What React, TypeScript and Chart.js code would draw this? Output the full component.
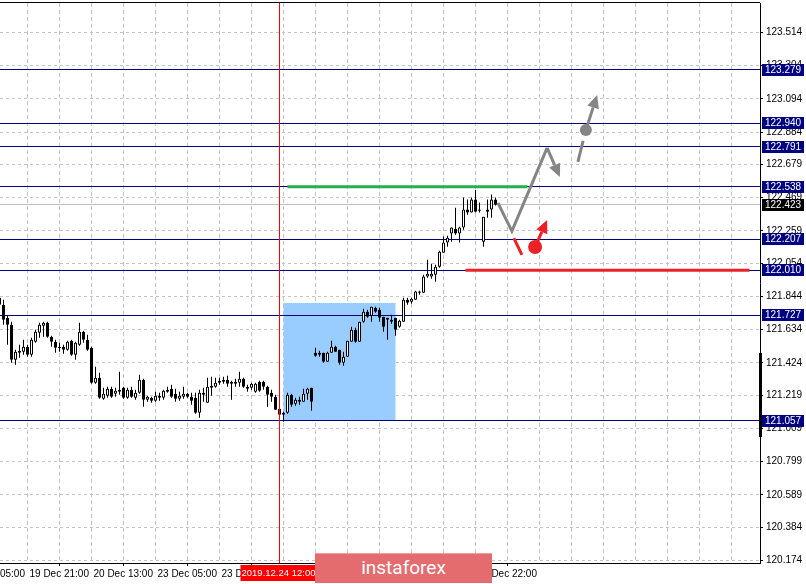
import { useEffect, useRef } from 'react';
import { Chart, registerables } from 'chart.js';

Chart.register(...registerables);

// ---- candle data (USD/JPY H1), index 0..124 ----
const opens = [
  121.837, 121.792, 121.710, 121.666, 121.444, 121.488, 121.495, 121.526, 121.476, 121.558,
  121.615, 121.659, 121.678, 121.590, 121.558, 121.526, 121.526, 121.508, 121.564, 121.476,
  121.539, 121.621, 121.571, 121.520, 121.298, 121.330, 121.197, 121.216, 121.261, 121.229,
  121.242, 121.267, 121.204, 121.254, 121.204, 121.235, 121.317, 121.191, 121.204, 121.185,
  121.216, 121.204, 121.254, 121.261, 121.229, 121.197, 121.210, 121.229, 121.210, 121.204,
  121.109, 121.223, 121.172, 121.267, 121.273, 121.298, 121.305, 121.317, 121.305, 121.292,
  121.298, 121.324, 121.273, 121.267, 121.242, 121.305, 121.305, 121.273, 121.235, 121.210,
  121.134, 121.109, 121.109, 121.223, 121.166, 121.191, 121.178, 121.229, 121.267, 121.488,
  121.476, 121.488, 121.431, 121.488, 121.526, 121.508, 121.425, 121.463, 121.558, 121.634,
  121.558, 121.685, 121.748, 121.723, 121.773, 121.761, 121.716, 121.710, 121.685, 121.710,
  121.653, 121.685, 121.824, 121.811, 121.824, 121.868, 121.868, 121.970, 121.970, 121.982,
  122.033, 122.121, 122.185, 122.242, 122.273, 122.242, 122.280, 122.394, 122.375, 122.457,
  122.394, 122.191, 122.394, 122.394, 122.457,
];
const highs = [
  121.875, 121.824, 121.723, 121.685, 121.508, 121.539, 121.571, 121.539, 121.583, 121.634,
  121.678, 121.685, 121.685, 121.596, 121.571, 121.552, 121.539, 121.564, 121.571, 121.558,
  121.678, 121.628, 121.602, 121.526, 121.400, 121.362, 121.267, 121.273, 121.273, 121.267,
  121.368, 121.273, 121.267, 121.273, 121.254, 121.349, 121.324, 121.216, 121.210, 121.242,
  121.235, 121.254, 121.273, 121.286, 121.261, 121.242, 121.273, 121.235, 121.235, 121.235,
  121.254, 121.267, 121.330, 121.336, 121.330, 121.330, 121.336, 121.343, 121.311, 121.324,
  121.368, 121.330, 121.286, 121.298, 121.298, 121.311, 121.311, 121.279, 121.254, 121.223,
  121.134, 121.115, 121.235, 121.229, 121.204, 121.210, 121.261, 121.267, 121.267, 121.520,
  121.501, 121.488, 121.495, 121.564, 121.533, 121.508, 121.495, 121.564, 121.653, 121.647,
  121.685, 121.767, 121.761, 121.780, 121.780, 121.773, 121.716, 121.710, 121.729, 121.710,
  121.697, 121.837, 121.837, 121.837, 121.881, 121.881, 121.982, 122.077, 122.052, 122.045,
  122.134, 122.223, 122.229, 122.280, 122.406, 122.286, 122.470, 122.457, 122.470, 122.520,
  122.438, 122.349, 122.457, 122.489, 122.470,
];
const lows = [
  121.748, 121.666, 121.539, 121.425, 121.412, 121.457, 121.476, 121.463, 121.463, 121.552,
  121.583, 121.590, 121.583, 121.526, 121.488, 121.495, 121.482, 121.501, 121.469, 121.444,
  121.533, 121.552, 121.501, 121.292, 121.292, 121.197, 121.191, 121.204, 121.204, 121.210,
  121.223, 121.197, 121.197, 121.204, 121.191, 121.229, 121.147, 121.178, 121.172, 121.178,
  121.185, 121.191, 121.235, 121.204, 121.178, 121.185, 121.197, 121.204, 121.159, 121.102,
  121.077, 121.178, 121.172, 121.216, 121.267, 121.286, 121.292, 121.273, 121.191, 121.273,
  121.273, 121.267, 121.242, 121.254, 121.235, 121.242, 121.254, 121.147, 121.178, 121.128,
  121.077, 121.052, 121.102, 121.147, 121.153, 121.159, 121.178, 121.191, 121.121, 121.463,
  121.463, 121.425, 121.431, 121.488, 121.495, 121.412, 121.406, 121.463, 121.558, 121.552,
  121.558, 121.678, 121.710, 121.685, 121.742, 121.685, 121.621, 121.571, 121.672, 121.596,
  121.647, 121.685, 121.792, 121.799, 121.824, 121.856, 121.868, 121.963, 121.957, 121.938,
  122.026, 122.121, 122.159, 122.191, 122.235, 122.185, 122.267, 122.362, 122.375, 122.375,
  122.375, 122.159, 122.343, 122.343, 122.419,
];
const closes = [
  121.792, 121.697, 121.666, 121.444, 121.495, 121.501, 121.526, 121.476, 121.571, 121.621,
  121.666, 121.678, 121.590, 121.558, 121.520, 121.518, 121.508, 121.558, 121.476, 121.552,
  121.621, 121.571, 121.508, 121.298, 121.330, 121.204, 121.229, 121.261, 121.210, 121.248,
  121.254, 121.204, 121.254, 121.210, 121.235, 121.317, 121.191, 121.210, 121.185, 121.216,
  121.204, 121.248, 121.242, 121.210, 121.197, 121.216, 121.229, 121.210, 121.185, 121.109,
  121.235, 121.235, 121.273, 121.279, 121.298, 121.311, 121.317, 121.292, 121.292, 121.305,
  121.324, 121.273, 121.261, 121.292, 121.292, 121.248, 121.273, 121.223, 121.210, 121.128,
  121.096, 121.096, 121.223, 121.159, 121.191, 121.178, 121.229, 121.261, 121.178, 121.469,
  121.488, 121.431, 121.488, 121.526, 121.495, 121.425, 121.463, 121.564, 121.634, 121.558,
  121.685, 121.748, 121.716, 121.780, 121.748, 121.710, 121.653, 121.697, 121.697, 121.634,
  121.691, 121.824, 121.805, 121.830, 121.875, 121.875, 121.970, 121.988, 121.988, 122.033,
  122.127, 122.185, 122.216, 122.280, 122.242, 122.280, 122.394, 122.375, 122.457, 122.381,
  122.387, 122.349, 122.381, 122.457, 122.425,
];

// ---- axes ----
const yTickValues = [
  123.514, 123.304, 123.094, 122.884, 122.679, 122.469, 122.259, 122.054, 121.844,
  121.634, 121.424, 121.219, 121.009, 120.799, 120.589, 120.384, 120.174,
];
const xTickIndex = [-9, 7, 23, 39, 55, 71, 87, 103, 119];
const xTickLabels = [
  '19 Dec 05:00', '19 Dec 21:00', '20 Dec 13:00', '23 Dec 05:00', '23 Dec 21:00',
  '24 Dec 13:00', '26 Dec 14:00', '27 Dec 06:00', '27 Dec 22:00',
];
const X_MIN = 0.125;
const X_MAX = 190.125;
const Y_MIN = 120.1585;
const Y_MAX = 123.7006;

// ---- levels and drawings ----
const levelPrices = [123.279, 122.940, 122.791, 122.538, 122.207, 122.010, 121.727, 121.057];
const currentPrice = 122.423;
const crosshairIndex = 70;
const crosshairLabel = '2019.12.24 12:00';
const zoneX = [71, 99];
const zoneY = [121.057, 121.803];
const greenX = [72, 132];
const greenPrice = 122.538;
const redX = [116.5, 187.5];
const redPrice = 122.010;
const grayPathX = [124.6, 128.1, 136.9, 140.1];
const grayPathY = [122.436, 122.258, 122.784, 122.600];
const grayDashX = [144.6, 145.9];
const grayDashY = [122.695, 122.828];
const grayDot = [146.6, 122.897];
const grayTip = [149.4, 123.119];
const redSegX = [128.6, 130.6];
const redSegY = [122.214, 122.107];
const redDot = [133.9, 122.157];
const redTip = [136.9, 122.328];
const rangeBar = [120.955, 121.487];

const FONT = "'Liberation Sans', Arial, sans-serif";
const FONT_SIZE = 10;
const NAVY = '#000080';
const GRAY = '#858585';
const RED = '#ee2027';
const GREEN = '#22b14c';

function arrow(ctx: CanvasRenderingContext2D, x1: number, y1: number, x2: number, y2: number, color: string, len: number, half: number) {
  const a = Math.atan2(y2 - y1, x2 - x1);
  const bx = x2 - len * Math.cos(a);
  const by = y2 - len * Math.sin(a);
  ctx.strokeStyle = color;
  ctx.beginPath();
  ctx.moveTo(x1, y1);
  ctx.lineTo(bx, by);
  ctx.stroke();
  ctx.fillStyle = color;
  ctx.beginPath();
  ctx.moveTo(x2, y2);
  ctx.lineTo(bx - half * Math.sin(a), by + half * Math.cos(a));
  ctx.lineTo(bx + half * Math.sin(a), by - half * Math.cos(a));
  ctx.closePath();
  ctx.fill();
}

const crisp = (v: number) => Math.round(v - 0.5) + 0.5;

const overlayPlugin = {
  id: 'overlay',
  beforeDatasetsDraw(chart: any) {
    const { ctx, chartArea: a, scales } = chart;
    const x = scales.x;
    const y = scales.y;
    ctx.save();
    ctx.beginPath();
    ctx.rect(a.left, a.top, a.right - a.left, a.bottom - a.top);
    ctx.clip();
    ctx.lineWidth = 1;
    ctx.strokeStyle = '#c4c4c4';
    ctx.setLineDash([3, 3]);
    for (const v of yTickValues) {
      const py = crisp(y.getPixelForValue(v));
      ctx.beginPath();
      ctx.moveTo(a.left, py);
      ctx.lineTo(a.right, py);
      ctx.stroke();
    }
    ctx.setLineDash([4, 3]);
    for (let i = -1; i <= X_MAX; i += 8) {
      const px = crisp(x.getPixelForValue(i));
      ctx.beginPath();
      ctx.moveTo(px, a.top);
      ctx.lineTo(px, a.bottom);
      ctx.stroke();
    }
    ctx.setLineDash([]);
    const rx1 = x.getPixelForValue(zoneX[0]);
    const rx2 = x.getPixelForValue(zoneX[1]);
    const ry1 = y.getPixelForValue(zoneY[1]);
    const ry2 = y.getPixelForValue(zoneY[0]);
    ctx.fillStyle = '#99ccff';
    ctx.fillRect(rx1, ry1, rx2 - rx1, ry2 - ry1);
    ctx.strokeStyle = '#c0c0c0';
    let py = crisp(y.getPixelForValue(currentPrice));
    ctx.beginPath();
    ctx.moveTo(a.left, py);
    ctx.lineTo(a.right, py);
    ctx.stroke();
    ctx.strokeStyle = NAVY;
    for (const p of levelPrices) {
      py = crisp(y.getPixelForValue(p));
      ctx.beginPath();
      ctx.moveTo(a.left, py);
      ctx.lineTo(a.right, py);
      ctx.stroke();
    }
    ctx.restore();
  },
  afterDatasetsDraw(chart: any) {
    const { ctx, chartArea: a, scales } = chart;
    const x = scales.x;
    const y = scales.y;
    const X = (v: number) => x.getPixelForValue(v);
    const Y = (v: number) => y.getPixelForValue(v);
    ctx.save();
    ctx.beginPath();
    ctx.rect(a.left, a.top, a.right - a.left, a.bottom - a.top);
    ctx.clip();
    ctx.lineCap = 'butt';
    ctx.lineJoin = 'miter';
    ctx.lineWidth = 3;
    ctx.strokeStyle = GREEN;
    ctx.beginPath();
    ctx.moveTo(X(greenX[0]), Y(greenPrice));
    ctx.lineTo(X(greenX[1]), Y(greenPrice));
    ctx.stroke();
    ctx.strokeStyle = RED;
    ctx.beginPath();
    ctx.moveTo(X(redX[0]), Y(redPrice));
    ctx.lineTo(X(redX[1]), Y(redPrice));
    ctx.stroke();
    ctx.strokeStyle = GRAY;
    ctx.lineWidth = 3;
    ctx.beginPath();
    ctx.moveTo(X(grayPathX[0]), Y(grayPathY[0]));
    for (let i = 1; i < grayPathX.length - 1; i++) ctx.lineTo(X(grayPathX[i]), Y(grayPathY[i]));
    ctx.stroke();
    const n = grayPathX.length;
    arrow(ctx, X(grayPathX[n - 2]), Y(grayPathY[n - 2]), X(grayPathX[n - 1]), Y(grayPathY[n - 1]), GRAY, 13, 6);
    ctx.beginPath();
    ctx.moveTo(X(grayDashX[0]), Y(grayDashY[0]));
    ctx.lineTo(X(grayDashX[1]), Y(grayDashY[1]));
    ctx.stroke();
    arrow(ctx, X(grayDot[0]), Y(grayDot[1]), X(grayTip[0]), Y(grayTip[1]), GRAY, 13, 6);
    ctx.fillStyle = GRAY;
    ctx.beginPath();
    ctx.arc(X(grayDot[0]), Y(grayDot[1]), 6, 0, Math.PI * 2);
    ctx.fill();
    ctx.strokeStyle = RED;
    ctx.beginPath();
    ctx.moveTo(X(redSegX[0]), Y(redSegY[0]));
    ctx.lineTo(X(redSegX[1]), Y(redSegY[1]));
    ctx.stroke();
    arrow(ctx, X(redDot[0]), Y(redDot[1]), X(redTip[0]), Y(redTip[1]), RED, 13, 6);
    ctx.fillStyle = RED;
    ctx.beginPath();
    ctx.arc(X(redDot[0]), Y(redDot[1]), 7, 0, Math.PI * 2);
    ctx.fill();
    ctx.lineWidth = 1;
    ctx.strokeStyle = '#ff0000';
    const cx = crisp(X(crosshairIndex));
    ctx.beginPath();
    ctx.moveTo(cx, a.top);
    ctx.lineTo(cx, a.bottom);
    ctx.stroke();
    ctx.restore();
    ctx.save();
    ctx.strokeStyle = '#000';
    ctx.lineWidth = 1;
    ctx.beginPath();
    ctx.moveTo(a.left, a.top - 0.5);
    ctx.lineTo(a.right, a.top - 0.5);
    ctx.stroke();
    ctx.restore();
  },
  afterDraw(chart: any) {
    const { ctx, chartArea: a, scales } = chart;
    const x = scales.x;
    const y = scales.y;
    ctx.save();
    ctx.font = `${FONT_SIZE}px ${FONT}`;
    ctx.textBaseline = 'middle';
    ctx.textAlign = 'left';
    const box = (p: number, bg: string) => {
      const py = Math.round(y.getPixelForValue(p));
      ctx.fillStyle = bg;
      ctx.fillRect(a.right + 2, py - 6, 42, 12);
      ctx.fillStyle = '#fff';
      ctx.fillText(p.toFixed(3), a.right + 5, py + 0.5);
    };
    for (const p of levelPrices) box(p, NAVY);
    box(currentPrice, '#000');
    ctx.fillStyle = '#000';
    const t = y.getPixelForValue(rangeBar[1]);
    const b = y.getPixelForValue(rangeBar[0]);
    ctx.fillRect(a.right - 1, t, 3, b - t);
    const cx = crisp(x.getPixelForValue(crosshairIndex));
    ctx.fillStyle = '#ff0000';
    ctx.fillRect(cx - 39, a.bottom + 2, 76, 16);
    ctx.fillStyle = '#fff';
    ctx.textAlign = 'center';
    ctx.font = `9.5px ${FONT}`;
    ctx.fillText(crosshairLabel, cx - 1, a.bottom + 10.5);
    ctx.restore();
  },
};

export default function App() {
  const ref = useRef<HTMLCanvasElement>(null);
  useEffect(() => {
    const wickData = opens.map((_, i) => ({ x: i, y: [lows[i], highs[i]] }));
    const bodyData = opens.map((o, i) => ({ x: i, y: [o, closes[i]] }));
    const bodyColors = opens.map((o, i) => (closes[i] >= o ? '#ffffff' : '#000000'));
    const font = { family: FONT, size: FONT_SIZE };
    const chart = new Chart(ref.current as HTMLCanvasElement, {
      type: 'bar',
      data: {
        datasets: [
          {
            data: wickData as any,
            backgroundColor: '#000',
            borderWidth: 0,
            barThickness: 1,
            grouped: false,
            inflateAmount: 0,
            order: 2,
          } as any,
          {
            data: bodyData as any,
            backgroundColor: bodyColors,
            borderColor: '#000',
            borderWidth: 1,
            borderSkipped: false,
            barThickness: 3,
            grouped: false,
            inflateAmount: 0,
            order: 1,
          } as any,
        ],
      },
      options: {
        animation: false,
        responsive: false,
        devicePixelRatio: 1,
        events: [],
        layout: { padding: { top: 3, left: 0, right: 0, bottom: 0 }, autoPadding: false } as any,
        plugins: { legend: { display: false }, tooltip: { enabled: false } },
        scales: {
          x: {
            type: 'linear',
            min: X_MIN,
            max: X_MAX,
            offset: false,
            position: 'bottom',
            afterBuildTicks: (s: any) => {
              s.ticks = xTickIndex.map((v) => ({ value: v }));
            },
            afterFit: (s: any) => {
              s.height = 21;
              s.paddingLeft = 0;
              s.paddingRight = 0;
              s.paddingTop = 0;
              s.paddingBottom = 0;
            },
            ticks: {
              autoSkip: false,
              maxRotation: 0,
              minRotation: 0,
              align: 'start',
              labelOffset: 2,
              padding: 2,
              color: '#000',
              font,
              callback: (_v: any, idx: number) => xTickLabels[idx],
            },
            grid: { drawOnChartArea: false, drawTicks: true, tickLength: 3, tickColor: '#000', color: '#000' },
            border: { display: true, color: '#000', width: 1 },
          } as any,
          y: {
            type: 'linear',
            position: 'right',
            min: Y_MIN,
            max: Y_MAX,
            afterBuildTicks: (s: any) => {
              s.ticks = yTickValues.map((v) => ({ value: v }));
            },
            afterFit: (s: any) => {
              s.width = 46;
              s.paddingLeft = 0;
              s.paddingRight = 0;
              s.paddingTop = 0;
              s.paddingBottom = 0;
            },
            ticks: {
              autoSkip: false,
              padding: 3,
              color: '#000',
              font,
              callback: (v: any) => Number(v).toFixed(3),
            },
            grid: { drawOnChartArea: false, drawTicks: true, tickLength: 3, tickColor: '#000', color: '#000' },
            border: { display: true, color: '#000', width: 1 },
          } as any,
        },
      },
      plugins: [overlayPlugin],
    });
    return () => chart.destroy();
  }, []);
  return (
    <div style={{ position: 'absolute', left: 0, top: 0, width: 806, height: 584, background: '#fff', overflow: 'hidden' }}>
      <canvas ref={ref} width={806} height={584} style={{ display: 'block', width: 806, height: 584 }} />
      <div
        style={{
          position: 'absolute',
          left: 315,
          top: 553,
          width: 177,
          height: 30,
          background: '#e46c6e',
          borderTop: '1px solid #ef9c9d',
          boxSizing: 'border-box',
          color: '#fff',
          fontFamily: 'Roboto, sans-serif',
          fontSize: 19,
          lineHeight: '28px',
          textAlign: 'center',
        }}
      >
        instaforex
      </div>
    </div>
  );
}
